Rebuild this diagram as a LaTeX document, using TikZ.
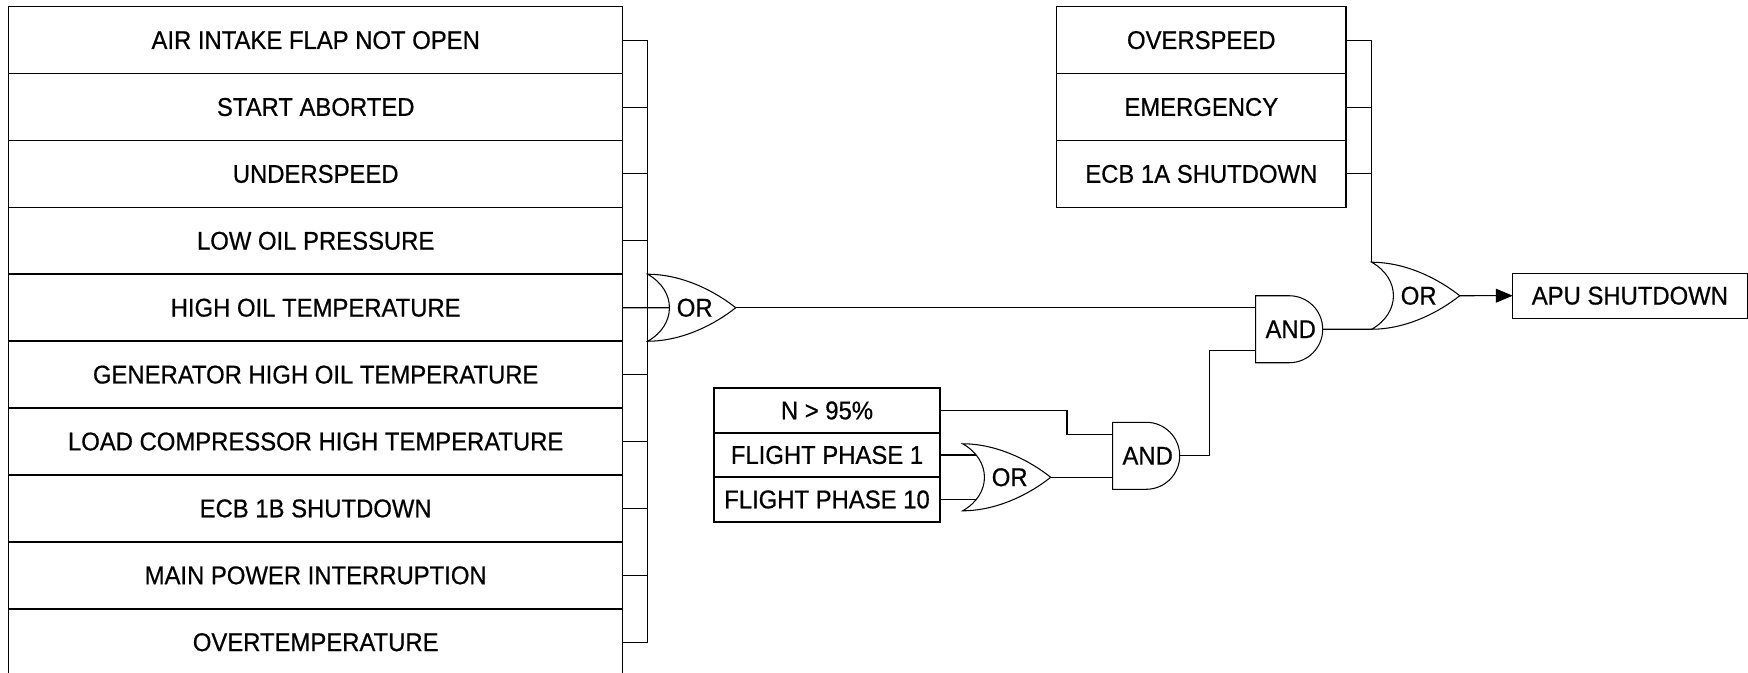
\documentclass[tikz,border=0pt]{standalone}
\usepackage{fontspec}
\setmainfont{Liberation Sans}[FakeStretch=0.93,FakeBold=0.6]
\usetikzlibrary{arrows.meta,positioning,backgrounds}

\tikzset{
  orgate/.pic={
    \filldraw[gate] (0,.335) .. controls (.35,.335) and (.68,.16) .. (.88,0)
      .. controls (.68,-.16) and (.35,-.335) .. (0,-.335)
      .. controls (.29,-.17) and (.29,.17) .. (0,.335) -- cycle;
    \coordinate (-top) at (0,.335);
    \coordinate (-bot) at (0,-.335);
    \coordinate (-mid) at (.22,0);
    \coordinate (-out) at (.88,0);
    \node[gatetext] (-txt) at (.47,0) {OR};
  },
  andgate/.pic={
    \filldraw[gate] (0,-.335) -- (0,.335) -- (.335,.335)
      arc[start angle=90,end angle=-90,radius=.335] -- cycle;
    \coordinate (-in1) at (0,.215);
    \coordinate (-in2) at (0,-.215);
    \coordinate (-out) at (.67,0);
    \node[gatetext] (-txt) at (.35,0) {AND};
  }
}

\begin{document}
\begin{tikzpicture}[
    txt/.style={font=\fontsize{7.3}{9}\selectfont},
    box/.style={txt,draw,line width=.45pt,inner sep=1pt,outer sep=0pt},
    rowbox/.style={box,minimum width=6.14cm,minimum height=.669cm},
    smallbox/.style={box,minimum width=2.26cm,minimum height=.445cm},
    gate/.style={line width=.3pt,fill=white},
    gatetext/.style={txt,inner sep=0pt},
    wire/.style={line width=.3pt}
  ]
  \useasboundingbox (0,0) rectangle (17.48,6.73);

  % left stack of faults
  \foreach \t [count=\i] in {AIR INTAKE FLAP NOT OPEN,START ABORTED,UNDERSPEED,
      LOW OIL PRESSURE,HIGH OIL TEMPERATURE,GENERATOR HIGH OIL TEMPERATURE,
      LOAD COMPRESSOR HIGH TEMPERATURE,ECB 1B SHUTDOWN,
      MAIN POWER INTERRUPTION,OVERTEMPERATURE}
    \node[rowbox] (r\i) at (3.157,{6.9975-\i*0.669}) {\t};

  % upper right group
  \node[rowbox,minimum width=2.895cm] (ov) at (12.013,6.3285) {OVERSPEED};
  \node[rowbox,minimum width=2.895cm,below=0pt of ov] (em) {EMERGENCY};
  \node[rowbox,minimum width=2.895cm,below=0pt of em] (ecb) {ECB 1A SHUTDOWN};

  % lower group
  \node[smallbox] (n95) at (8.27,2.625) {N > 95\%};
  \node[smallbox,below=0pt of n95] (fp1) {FLIGHT PHASE 1};
  \node[smallbox,below=0pt of fp1] (fp10) {FLIGHT PHASE 10};

  \node[box,line width=.3pt,minimum width=2.343cm,minimum height=.45cm] (apu)
    at (16.299,3.773) {APU SHUTDOWN};

  % gates
  \pic (orA) at (6.477,3.6525) {orgate};
  \pic (andA) at (12.557,3.4375) {andgate};
  \pic (orB) at (13.717,3.7725) {orgate};
  \pic (andB) at (11.127,2.172) {andgate};
  \pic (orC) at (9.627,1.957) {orgate};

  \begin{scope}[on background layer]
    \foreach \i in {1,...,10}
      \draw[wire] (r\i.east) -- (r\i.east -| orA-top);
    \draw[wire] (r1.east -| orA-top) -- (r10.east -| orA-top);
    \draw[wire] (r5.east) -- (orA-mid);
    \draw[wire] (orA-out) -- (andA-in1);

    \foreach \b in {ov,em,ecb}
      \draw[wire] (\b.east) -- (\b.east -| orB-top);
    \draw[wire] (ov.east -| orB-top) -- (orB-top);
    \draw[wire] (andA-out) -- (orB-bot);
    \draw[wire,-{Triangle[length=.17cm,width=.14cm]}] (orB-out) -- (apu.west);

    \draw[wire] (fp1.east) -- (fp1.east -| orC-mid);
    \draw[wire] (fp10.east) -- (fp10.east -| orC-mid);
    \draw[wire] (orC-out) -- (andB-in2);
    \draw[wire] (n95.east) -- ++(1.27,0) |- (andB-in1);
    \draw[wire] (andB-out) -- ++(.30,0) |- (andA-in2);
  \end{scope}
\end{tikzpicture}
\end{document}
